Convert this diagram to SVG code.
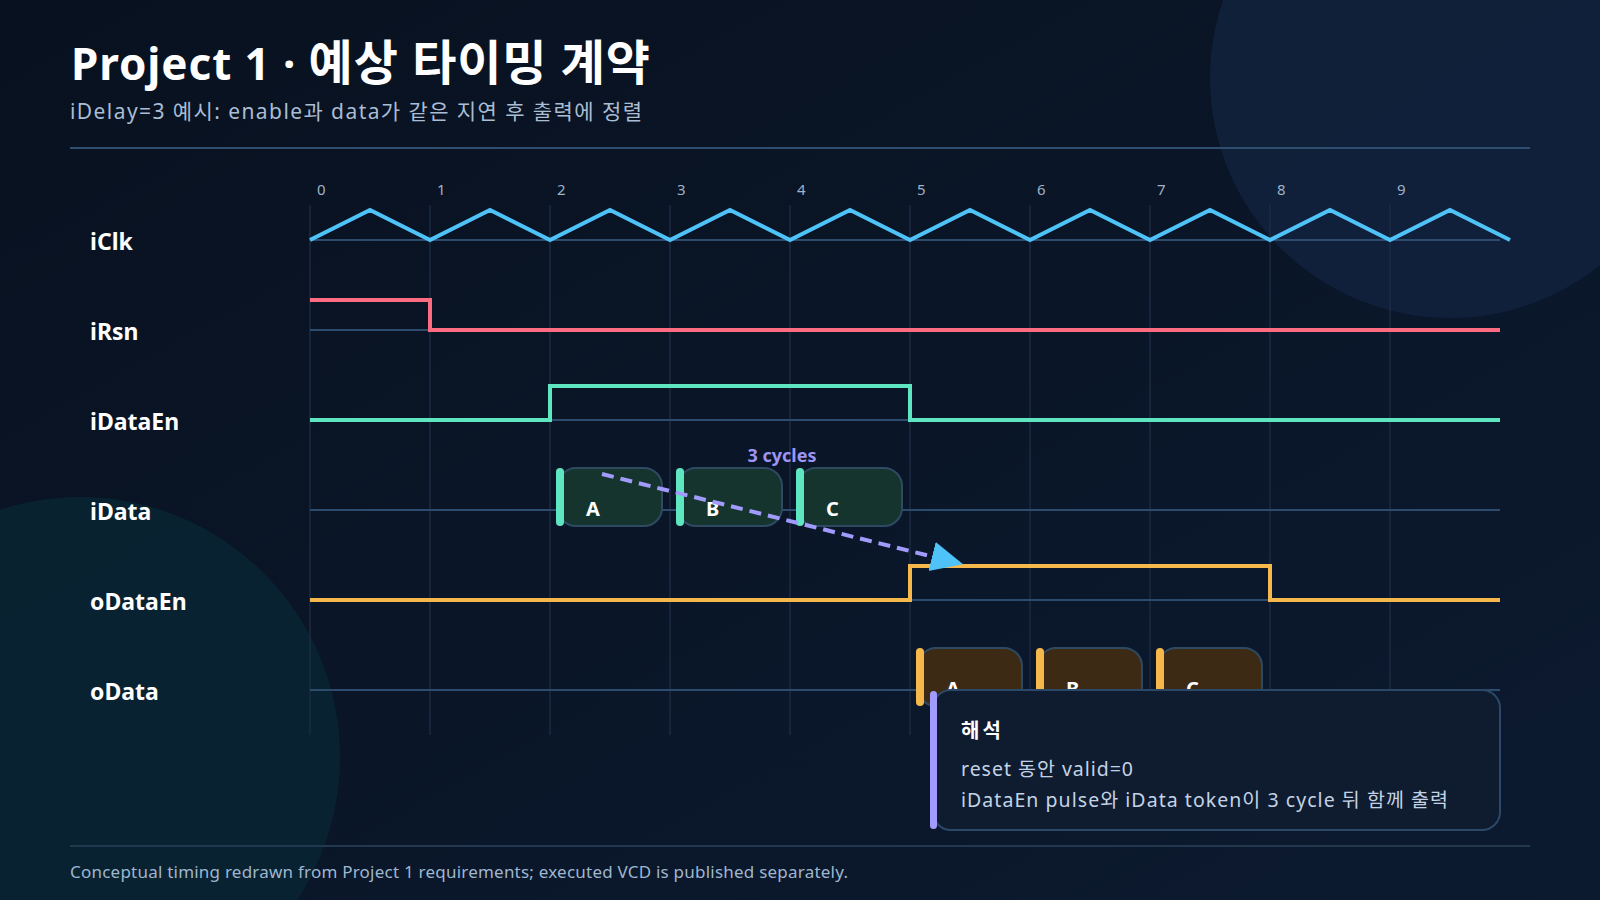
<svg xmlns="http://www.w3.org/2000/svg" width="1600" height="900" viewBox="0 0 1600 900">
  <defs>
    <linearGradient id="bg" x1="0" y1="0" x2="1" y2="1">
      <stop offset="0" stop-color="#08111f"/>
      <stop offset="1" stop-color="#0c1a30"/>
    </linearGradient>
    <marker id="arrowHead" markerUnits="userSpaceOnUse" markerWidth="34" markerHeight="32" viewBox="0 0 34 32" refX="2" refY="16" orient="auto">
      <path d="M0,1 L32,16 L0,31 z" fill="#4fc3f7"/>
    </marker>
    <style>
      .title { font-family: "Noto Sans", "Noto Sans CJK KR", sans-serif; font-weight: 700; font-size: 44px; fill: #ffffff; }
      .ko { font-size: 48px; }
      .sub { font-family: "Noto Sans", "Noto Sans CJK KR", sans-serif; font-size: 21px; fill: #a9bdd4; }
      .tick { font-family: "Noto Sans", "Noto Sans CJK KR", sans-serif; font-size: 15px; fill: #9fb2c9; }
      .rowlabel { font-family: "Noto Sans", "Noto Sans CJK KR", sans-serif; font-weight: 700; font-size: 23px; fill: #ffffff; }
      .tok { font-family: "Noto Sans", "Noto Sans CJK KR", sans-serif; font-weight: 700; font-size: 20px; fill: #ffffff; }
      .note { font-family: "Noto Sans", "Noto Sans CJK KR", sans-serif; font-weight: 700; font-size: 18px; fill: #9d94f5; }
      .cTitle { font-family: "Noto Sans", "Noto Sans CJK KR", sans-serif; font-weight: 700; font-size: 20px; fill: #ffffff; }
      .cText { font-family: "Noto Sans", "Noto Sans CJK KR", sans-serif; font-size: 19.5px; fill: #c3d3e6; }
      .foot { font-family: "Noto Sans", "Noto Sans CJK KR", sans-serif; font-size: 17px; fill: #9fb6cf; }
      .grid { stroke: #1b2b42; stroke-width: 1.5; }
      .base { stroke: #2d4b6c; stroke-width: 2; }
      .wave { fill: none; stroke-width: 4; stroke-linejoin: miter; }
      .tokIn { fill: #16342e; stroke: #2e4a63; stroke-width: 2; }
      .tokOut { fill: #3d2a14; stroke: #2e4a63; stroke-width: 2; }
      .barIn { fill: #5ee6c0; }
      .barOut { fill: #f7b84b; }
    </style>
  </defs>

  <!-- background -->
  <rect x="0" y="0" width="1600" height="900" fill="url(#bg)"/>
  <circle cx="1450" cy="78" r="240" fill="#11213c" opacity="0.9"/>
  <circle cx="80" cy="757" r="260" fill="#0a2331" opacity="0.95"/>

  <!-- header -->
  <text class="title" x="71" y="80" textLength="579" lengthAdjust="spacing">Project 1 · <tspan class="ko">예상 타이밍 계약</tspan></text>
  <text class="sub" x="70" y="119" textLength="572" lengthAdjust="spacing">iDelay=3 예시: enable과 data가 같은 지연 후 출력에 정렬</text>
  <line x1="70" y1="148" x2="1530" y2="148" stroke="#2f4d6e" stroke-width="2"/>

  <!-- grid -->
  <g id="grid">
    <line class="grid" x1="310" y1="205" x2="310" y2="735"/>
    <line class="grid" x1="430" y1="205" x2="430" y2="735"/>
    <line class="grid" x1="550" y1="205" x2="550" y2="735"/>
    <line class="grid" x1="670" y1="205" x2="670" y2="735"/>
    <line class="grid" x1="790" y1="205" x2="790" y2="735"/>
    <line class="grid" x1="910" y1="205" x2="910" y2="735"/>
    <line class="grid" x1="1030" y1="205" x2="1030" y2="735"/>
    <line class="grid" x1="1150" y1="205" x2="1150" y2="735"/>
    <line class="grid" x1="1270" y1="205" x2="1270" y2="735"/>
    <line class="grid" x1="1390" y1="205" x2="1390" y2="735"/>
    <text class="tick" x="317" y="195">0</text>
    <text class="tick" x="437" y="195">1</text>
    <text class="tick" x="557" y="195">2</text>
    <text class="tick" x="677" y="195">3</text>
    <text class="tick" x="797" y="195">4</text>
    <text class="tick" x="917" y="195">5</text>
    <text class="tick" x="1037" y="195">6</text>
    <text class="tick" x="1157" y="195">7</text>
    <text class="tick" x="1277" y="195">8</text>
    <text class="tick" x="1397" y="195">9</text>
  </g>

  <!-- baselines -->
  <g id="baselines">
    <line class="base" x1="310" y1="240" x2="1500" y2="240"/>
    <line class="base" x1="310" y1="330" x2="1500" y2="330"/>
    <line class="base" x1="310" y1="420" x2="1500" y2="420"/>
    <line class="base" x1="310" y1="510" x2="1500" y2="510"/>
    <line class="base" x1="310" y1="600" x2="1500" y2="600"/>
    <line class="base" x1="310" y1="690" x2="1500" y2="690"/>
  </g>

  <!-- signal iClk -->
  <g id="iClk">
    <text class="rowlabel" x="90" y="250">iClk</text>
    <path class="wave" stroke="#4fc3f7" d="M310,240 L370,210 L430,240 L490,210 L550,240 L610,210 L670,240 L730,210 L790,240 L850,210 L910,240 L970,210 L1030,240 L1090,210 L1150,240 L1210,210 L1270,240 L1330,210 L1390,240 L1450,210 L1510,240"/>
  </g>

  <g id="iRsn">
    <text class="rowlabel" x="90" y="340">iRsn</text>
    <path class="wave" stroke="#ff6b81" d="M310,300 H430 V330 H1500"/>
  </g>

  <g id="iDataEn">
    <text class="rowlabel" x="90" y="430">iDataEn</text>
    <path class="wave" stroke="#5ee6c0" d="M310,420 H550 V386 H910 V420 H1500"/>
  </g>

  <g id="iData">
    <text class="rowlabel" x="90" y="520">iData</text>
    <g id="iData-A">
      <rect class="tokIn" x="558" y="468" width="104" height="58" rx="18"/>
      <rect class="barIn" x="556" y="468" width="8" height="58" rx="4"/>
      <text class="tok" x="586" y="516">A</text>
    </g>
    <g id="iData-B">
      <rect class="tokIn" x="678" y="468" width="104" height="58" rx="18"/>
      <rect class="barIn" x="676" y="468" width="8" height="58" rx="4"/>
      <text class="tok" x="706" y="516">B</text>
    </g>
    <g id="iData-C">
      <rect class="tokIn" x="798" y="468" width="104" height="58" rx="18"/>
      <rect class="barIn" x="796" y="468" width="8" height="58" rx="4"/>
      <text class="tok" x="826" y="516">C</text>
    </g>
  </g>

  <g id="oDataEn">
    <text class="rowlabel" x="90" y="610">oDataEn</text>
    <path class="wave" stroke="#f7b84b" d="M310,600 H910 V566 H1270 V600 H1500"/>
  </g>

  <g id="oData">
    <text class="rowlabel" x="90" y="700">oData</text>
    <g id="oData-A">
      <rect class="tokOut" x="918" y="648" width="104" height="58" rx="18"/>
      <rect class="barOut" x="916" y="648" width="8" height="58" rx="4"/>
      <text class="tok" x="946" y="696">A</text>
    </g>
    <g id="oData-B">
      <rect class="tokOut" x="1038" y="648" width="104" height="58" rx="18"/>
      <rect class="barOut" x="1036" y="648" width="8" height="58" rx="4"/>
      <text class="tok" x="1066" y="696">B</text>
    </g>
    <g id="oData-C">
      <rect class="tokOut" x="1158" y="648" width="104" height="58" rx="18"/>
      <rect class="barOut" x="1156" y="648" width="8" height="58" rx="4"/>
      <text class="tok" x="1186" y="696">C</text>
    </g>
  </g>

  <!-- connectors -->
  <g id="connectors">
    <line x1="602" y1="474" x2="934" y2="557" stroke="#a29bfe" stroke-width="4" stroke-dasharray="12 7" marker-end="url(#arrowHead)"/>
    <text class="note" x="782" y="462" text-anchor="middle">3 cycles</text>
  </g>

  <!-- callout -->
  <g id="callout">
    <rect x="933" y="690" width="567" height="140" rx="18" fill="#0f1c2f" stroke="#2c4868" stroke-width="2"/>
    <rect x="930" y="691" width="7" height="138" rx="3.5" fill="#a29bfe"/>
    <text class="cTitle" x="961" y="738" textLength="40" lengthAdjust="spacing">해석</text>
    <text class="cText" x="961" y="776" textLength="172" lengthAdjust="spacing">reset 동안 valid=0</text>
    <text class="cText" x="961" y="807" textLength="487" lengthAdjust="spacing">iDataEn pulse와 iData token이 3 cycle 뒤 함께 출력</text>
  </g>

  <!-- footer -->
  <line x1="70" y1="846" x2="1530" y2="846" stroke="#22384f" stroke-width="2"/>
  <text class="foot" x="70" y="878" textLength="778" lengthAdjust="spacing">Conceptual timing redrawn from Project 1 requirements; executed VCD is published separately.</text>
</svg>
